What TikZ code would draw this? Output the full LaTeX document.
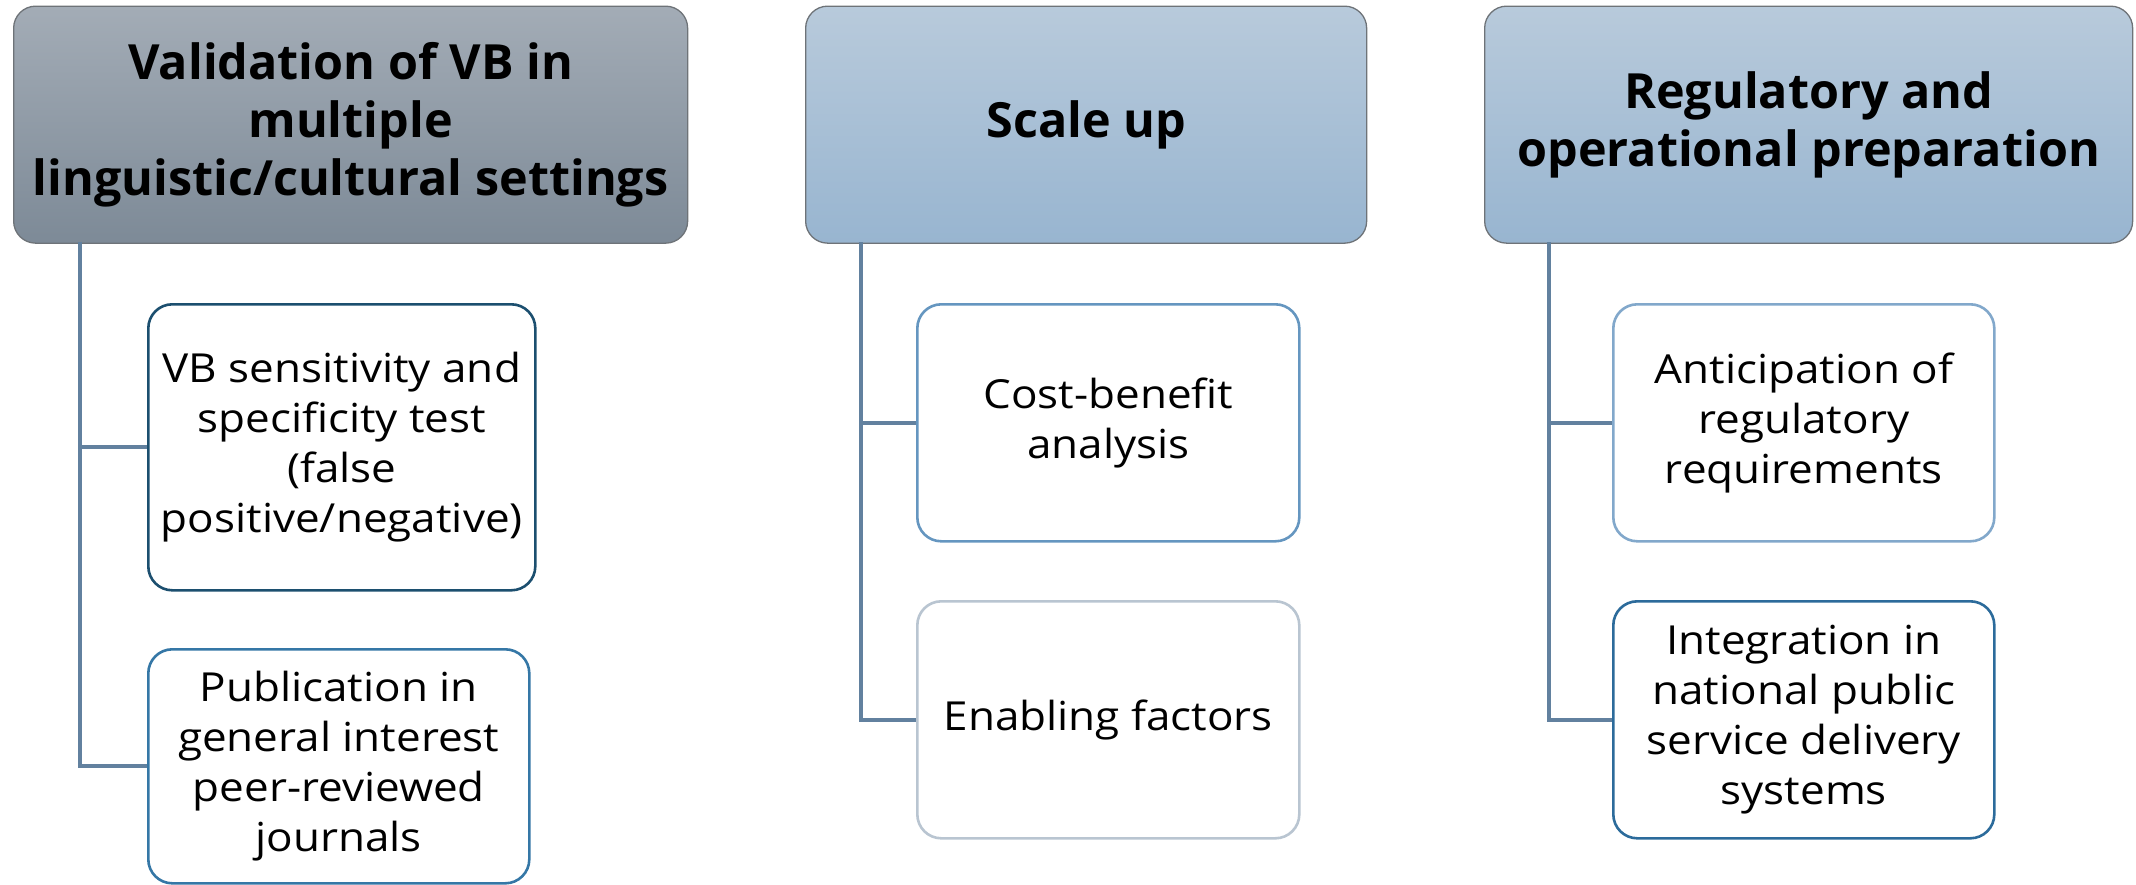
\documentclass[tikz,border=0pt]{standalone}
\usepackage{fontspec}
\setmainfont{Open Sans}
\newfontfamily\bodyfont[FakeStretch=1.1]{Open Sans}
\begin{document}
\begin{tikzpicture}[x=1pt,y=-1pt,
  hdr/.style={draw=hdrBorder, line width=1.3pt, rounded corners=22pt, anchor=north west,
    inner sep=0pt, align=center, font=\fontsize{48.5}{58}\selectfont\bfseries},
  hdrgray/.style={hdr, top color=hdrGrayTop, bottom color=hdrGrayBot},
  hdrblue/.style={hdr, top color=hdrBlueTop, bottom color=hdrBlueBot},
  child/.style={fill=white, line width=2.6pt, rounded corners=24pt, anchor=north west,
    inner sep=0pt, align=center, font=\bodyfont\fontsize{40}{50}\selectfont},
  conn/.style={draw=connColor, line width=4pt}
]
\definecolor{hdrBorder}{HTML}{6E7378}
\definecolor{hdrGrayTop}{HTML}{A3ACB6}
\definecolor{hdrGrayBot}{HTML}{7D8A97}
\definecolor{hdrBlueTop}{HTML}{B8CADB}
\definecolor{hdrBlueBot}{HTML}{98B5D0}
\definecolor{connColor}{HTML}{62819F}
\definecolor{bA}{HTML}{1C4F6F}
\definecolor{bB}{HTML}{3577A6}
\definecolor{bC}{HTML}{6596C0}
\definecolor{bD}{HTML}{B9C5D1}
\definecolor{bE}{HTML}{82A8CB}
\definecolor{bF}{HTML}{2C6B9B}
\useasboundingbox (0,0) rectangle (2136,884);

% headers
\node[hdrgray, minimum width=674pt, minimum height=237pt] (h1) at (13,5.5)
  {Validation of VB in\\multiple\\linguistic/cultural settings};
\node[hdrblue, minimum width=561pt, minimum height=237pt] (h2) at (805,5.5)
  {Scale up};
\node[hdrblue, minimum width=648pt, minimum height=237pt] (h3) at (1484,5.5)
  {Regulatory and\\operational preparation};

% children
\node[child, draw=bA, minimum width=387pt, minimum height=286pt] (c1a) at (147,303)
  {VB sensitivity and\\specificity test\\(false\\positive/negative)};
\node[child, draw=bB, minimum width=381pt, minimum height=234pt] (c1b) at (147,648)
  {Publication in\\general interest\\peer-reviewed\\journals};
\node[child, draw=bC, minimum width=382pt, minimum height=237pt] (c2a) at (916,303)
  {Cost-benefit\\analysis};
\node[child, draw=bD, minimum width=382pt, minimum height=237pt] (c2b) at (916,600)
  {Enabling factors};
\node[child, draw=bE, minimum width=381pt, minimum height=237pt] (c3a) at (1612,303)
  {Anticipation of\\regulatory\\requirements};
\node[child, draw=bF, minimum width=381pt, minimum height=237pt] (c3b) at (1612,600)
  {Integration in\\national public\\service delivery\\systems};

% connectors
\coordinate (v1) at (80,242);
\coordinate (v2) at (861,242);
\coordinate (v3) at (1549,242);
\draw[conn] (v1) |- (c1a.west);
\draw[conn] (v1) |- (c1b.west);
\draw[conn] (v2) |- (c2a.west);
\draw[conn] (v2) |- (c2b.west);
\draw[conn] (v3) |- (c3a.west);
\draw[conn] (v3) |- (c3b.west);
\end{tikzpicture}
\end{document}
